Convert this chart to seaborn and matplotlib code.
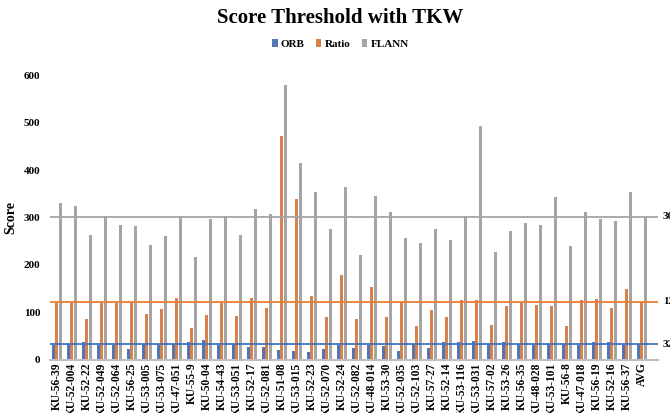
import pandas as pd
import matplotlib.pyplot as plt
import seaborn as sns

samples = ["KU-56-39", "KU-52-004", "KU-52-22", "KU-52-049", "KU-52-064", "KU-56-25",
           "KU-53-005", "KU-53-075", "KU-47-051", "KU-55-9", "KU-50-04", "KU-54-43",
           "KU-53-051", "KU-52-17", "KU-52-081", "KU-51-08", "KU-53-015", "KU-52-23",
           "KU-52-070", "KU-52-24", "KU-52-082", "KU-48-014", "KU-53-30", "KU-52-035",
           "KU-52-103", "KU-57-27", "KU-52-14", "KU-53-116", "KU-53-031", "KU-57-02",
           "KU-53-26", "KU-56-35", "KU-48-028", "KU-53-101", "KU-56-8", "KU-47-018",
           "KU-56-19", "KU-52-16", "KU-56-37", "AVG"]

orb = [31, 34, 37, 30, 31, 22, 34, 30, 34, 37, 41, 30, 34, 27, 27, 20, 18, 15, 22, 30,
       25, 30, 29, 18, 34, 25, 37, 37, 39, 34, 37, 34, 30, 34, 34, 30, 37, 37, 30, 32]

ratio = [120, 119, 86, 120, 119, 119, 97, 107, 130, 67, 95, 119, 93, 130, 109, 472, 340,
         135, 89, 178, 86, 154, 89, 121, 72, 105, 91, 125, 125, 74, 114, 120, 116, 114,
         72, 125, 129, 109, 149, 122]

flann = [330, 324, 264, 304, 285, 283, 242, 262, 304, 217, 296, 304, 264, 319, 308, 581,
         416, 354, 275, 364, 222, 345, 311, 256, 247, 275, 252, 304, 493, 228, 271, 288,
         285, 343, 241, 311, 298, 292, 355, 302]

# averages drawn as reference lines
avg_lines = {"ORB": 32, "Ratio": 122, "FLANN": 302}

colors = {"ORB": "#4472C4", "Ratio": "#ED7D31", "FLANN": "#A5A5A5"}

df = pd.DataFrame({"Sample": samples, "ORB": orb, "Ratio": ratio, "FLANN": flann})
long_df = df.melt(id_vars="Sample", var_name="Method", value_name="Score")

plt.rcParams["font.family"] = ["Liberation Serif", "DejaVu Serif"]
plt.rcParams["font.weight"] = "bold"

fig = plt.figure(figsize=(6.7, 4.13), dpi=100)
ax = fig.add_axes([0.0746, 0.1293, 0.9074, 0.6877])

sns.barplot(
    data=long_df,
    x="Sample",
    y="Score",
    hue="Method",
    palette=colors,
    width=0.66,
    gap=0.1,
    ax=ax,
)

for name, val in avg_lines.items():
    ax.axhline(val, color=colors[name], linewidth=1.3, zorder=3)
    ax.text(1.008, val, str(val), transform=ax.get_yaxis_transform(),
            ha="left", va="center", fontsize=8, fontweight="bold", clip_on=False)

ax.set_ylim(0, 600)
ax.set_xlim(-0.45, 40.08)
ax.set_yticks(range(0, 601, 100))
ax.tick_params(axis="y", length=0, labelsize=8, pad=7)
ax.tick_params(axis="x", length=0, labelsize=8.3, rotation=90, pad=2)
for lbl in ax.get_xticklabels() + ax.get_yticklabels():
    lbl.set_fontweight("bold")

ax.set_xlabel("")
ax.set_ylabel("Score", fontsize=10, fontweight="bold")
ax.yaxis.set_label_coords(-0.053, 0.5)

for side in ["top", "right", "left"]:
    ax.spines[side].set_visible(False)
ax.spines["bottom"].set_color("#BFBFBF")
ax.spines["bottom"].set_linewidth(1.5)

ax.legend(loc="upper center", bbox_to_anchor=(0.508, 0.93), bbox_transform=fig.transFigure,
          ncol=3, frameon=False, fontsize=8, handlelength=0.5, handleheight=0.7,
          handletextpad=0.3, columnspacing=1.0)
for t in ax.get_legend().get_texts():
    t.set_fontweight("bold")

fig.suptitle("Score Threshold with TKW", x=0.507, y=0.98, fontsize=15, fontweight="bold")

fig.savefig("out.png", dpi=100)
